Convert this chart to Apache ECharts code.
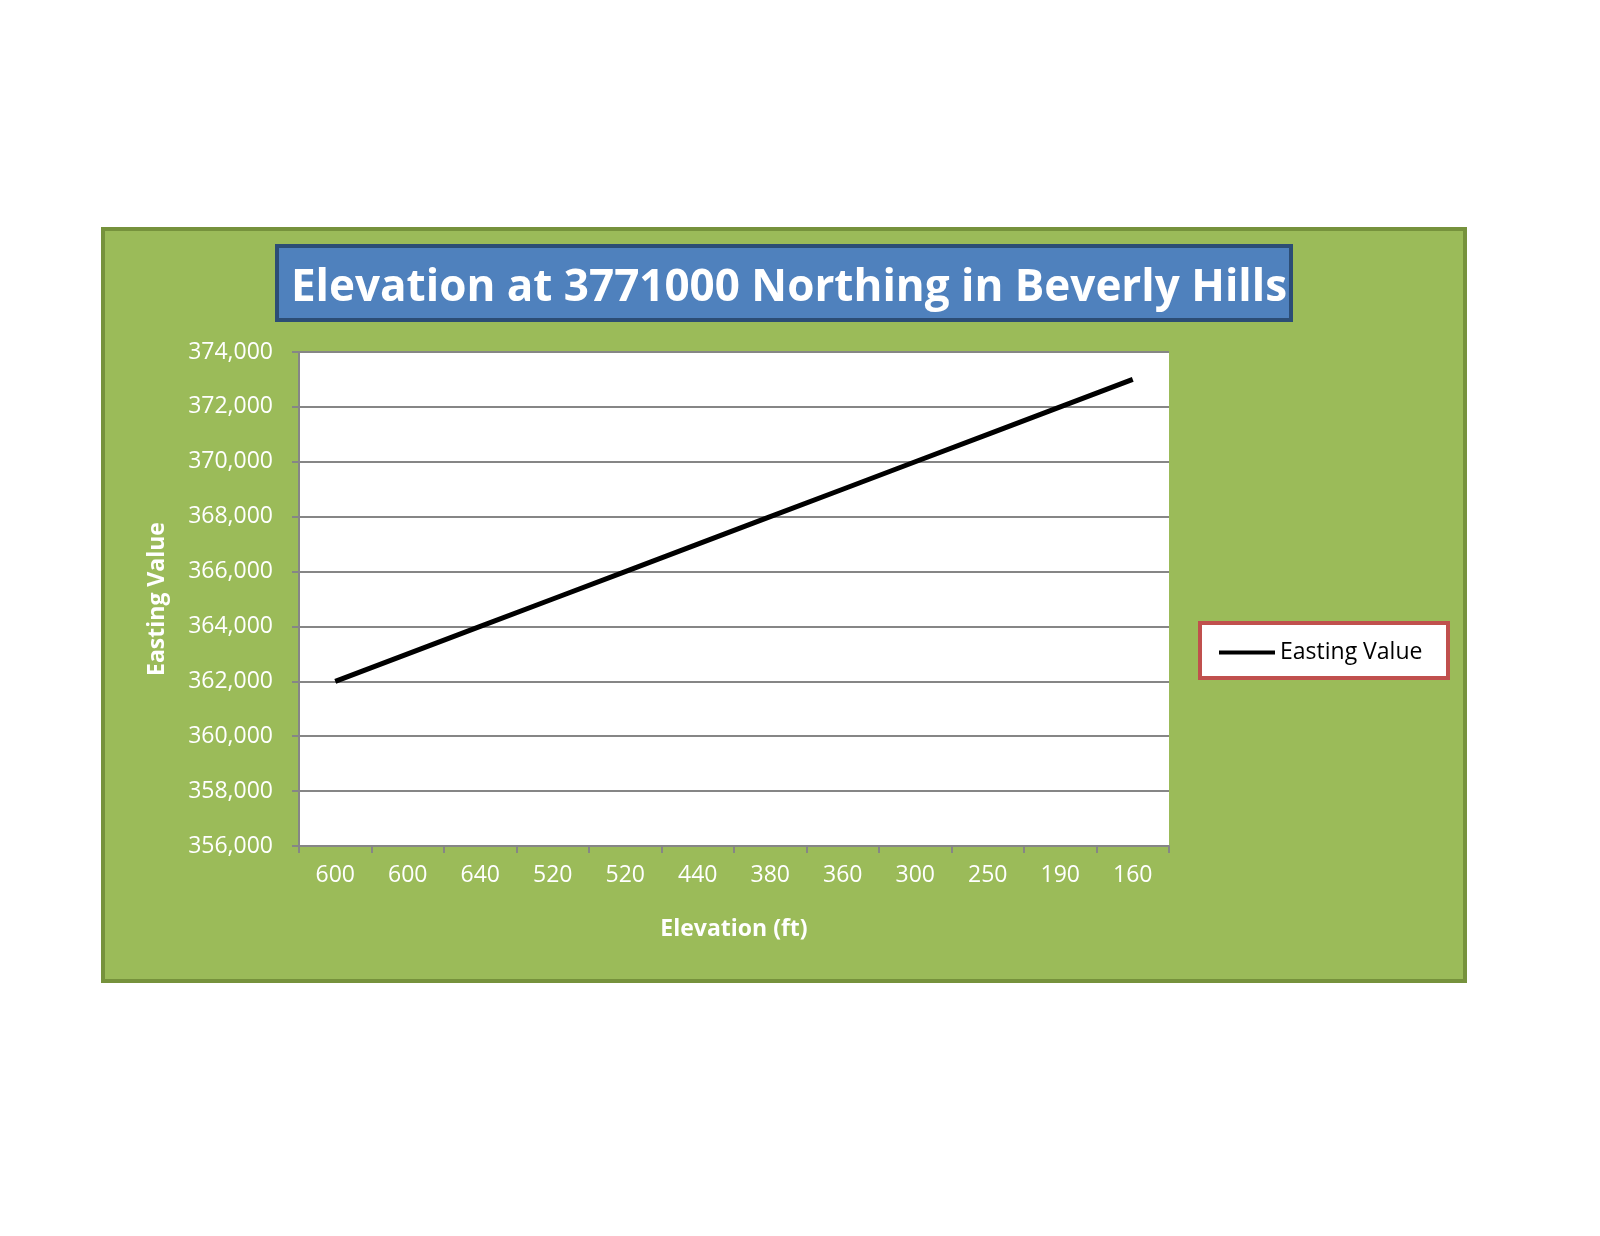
<!DOCTYPE html>
<html><head><meta charset="utf-8">
<script src="https://cdn.jsdelivr.net/npm/echarts@6/dist/echarts.min.js"></script>
<style>html,body{margin:0;padding:0;background:#fff}#c{width:1600px;height:1236px}</style>
</head><body><div id="c"></div>
<script>
const categories = ['600','600','640','520','520','440','380','360','300','250','190','160'];
const eastingValues = [362000,363000,364000,365000,366000,367000,368000,369000,370000,371000,372000,373000];
const yTicks = {min:356000, max:374000, interval:2000};
const F = '"Open Sans", "Noto Sans", sans-serif';
const chart = echarts.init(document.getElementById('c'));
chart.setOption({
  animation:false,
  graphic:[
    {type:'rect', z:-10, shape:{x:103,y:229,width:1362,height:752}, style:{fill:'#9BBB59', stroke:'#76923C', lineWidth:4}},
    {type:'rect', z:-9, shape:{x:277,y:246,width:1014,height:74}, style:{fill:'#4F81BD', stroke:'#2C4D75', lineWidth:4}},
    {type:'rect', z:-9, shape:{x:1200,y:623,width:248,height:55}, style:{fill:'#fff', stroke:'#C0504D', lineWidth:4}}
  ],
  title:{text:'Elevation at 3771000 Northing in Beverly Hills', left:784, top:283, textAlign:'center', textVerticalAlign:'middle',
    textStyle:{color:'#fff', fontSize:44, fontWeight:'bold', fontFamily:F}},
  legend:{left:1214, top:636, itemWidth:56, itemHeight:4, icon:'rect', itemGap:8,
    textStyle:{color:'#000', fontSize:23, fontFamily:F}, data:['Easting Value']},
  grid:{left:299, top:352, width:870, height:494, backgroundColor:'#fff', show:true, borderWidth:0},
  xAxis:{type:'category', data:categories, boundaryGap:true,
    name:'Elevation (ft)', nameLocation:'middle', nameGap:72, nameTextStyle:{color:'#fff', fontSize:23, fontWeight:'bold', fontFamily:F},
    axisLine:{lineStyle:{color:'#868686', width:2}}, axisTick:{show:true, length:7, lineStyle:{color:'#868686', width:2}},
    axisLabel:{color:'#fff', fontSize:23, fontFamily:F, margin:18}},
  yAxis:{type:'value', min:yTicks.min, max:yTicks.max, interval:yTicks.interval,
    name:'Easting Value', nameLocation:'middle', nameGap:130, nameTextStyle:{color:'#fff', fontSize:23, fontWeight:'bold', fontFamily:F},
    axisLine:{show:true, lineStyle:{color:'#868686', width:2}}, axisTick:{show:true, length:7, lineStyle:{color:'#868686', width:2}},
    splitLine:{lineStyle:{color:'#868686', width:2}},
    axisLabel:{color:'#fff', fontSize:23, fontFamily:F, margin:26}},
  series:[{name:'Easting Value', type:'line', data:eastingValues, symbol:'none', lineStyle:{color:'#000', width:5}, itemStyle:{color:'#000'}}]
});
</script></body></html>
